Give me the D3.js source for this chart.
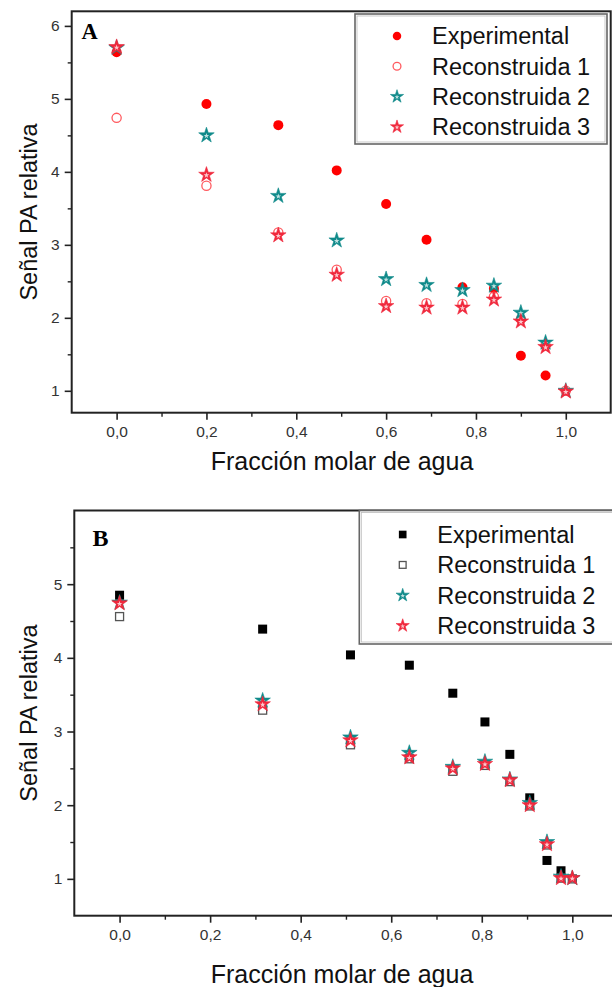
<!DOCTYPE html>
<html><head><meta charset="utf-8">
<script src="https://cdn.jsdelivr.net/npm/d3@7"></script>
<style>body{margin:0;background:#fff}svg{display:block}</style>
</head><body>
<script>
// ---------- DATA ----------
const seriesNames = ["Experimental","Reconstruida 1","Reconstruida 2","Reconstruida 3"];
const xTickValues = [0,0.2,0.4,0.6,0.8,1.0];

// Panel A
const xA    = [0, 0.2, 0.36, 0.49, 0.6, 0.69, 0.77, 0.84, 0.9, 0.955, 1.0];
const expA  = [5.64, 4.93, 4.64, 4.02, 3.56, 3.07, 2.42, 2.40, 1.48, 1.21, null];
const rec1A = [4.74, 3.81, 3.17, 2.66, 2.23, 2.20, 2.19, 2.29, 1.98, 1.62, 1.00];
const rec2A = [5.70, 4.50, 3.67, 3.06, 2.53, 2.45, 2.38, 2.44, 2.07, 1.66, 1.00];
const rec3A = [5.71, 3.96, 3.13, 2.59, 2.16, 2.14, 2.14, 2.25, 1.95, 1.60, 0.99];
const yTicksA = [1,2,3,4,5,6];

// Panel B
const xB    = [0, 0.316, 0.51, 0.64, 0.736, 0.807, 0.862, 0.906, 0.944, 0.975, 1.0];
const expB  = [4.85, 4.39, 4.04, 3.90, 3.52, 3.13, 2.69, 2.10, 1.25, 1.11, null];
const rec1B = [4.56, 3.29, 2.82, 2.63, 2.46, 2.54, 2.32, 1.99, 1.46, 1.01, 1.00];
const rec2B = [4.75, 3.42, 2.92, 2.71, 2.52, 2.59, 2.35, 2.03, 1.50, 1.03, 1.01];
const rec3B = [4.74, 3.37, 2.88, 2.65, 2.50, 2.56, 2.34, 2.00, 1.47, 1.01, 1.01];
const yTicksB = [1,2,3,4,5];

// ---------- DRAW ----------
const W = 612, H = 987;
const svg = d3.select("body").append("svg").attr("width", W).attr("height", H);
const SANS = "'Liberation Sans', Arial, sans-serif";
const SERIF = "'Liberation Serif', 'Times New Roman', serif";
const RED = "#ff0000", PINK = "#ff5a5f", TEAL = "#0f8a8a", CRIMSON = "#f0283c";

function starPath(size){ return d3.symbol().type(d3.symbolStar).size(size)(); }

function drawMarker(g, type, x, y, legend){
  const s = legend ? 0.85 : 1;
  if (type === "dot") {
    g.append("circle").attr("cx",x).attr("cy",y).attr("r",5*s).attr("fill",RED);
  } else if (type === "ring") {
    g.append("circle").attr("cx",x).attr("cy",y).attr("r",4.6*s)
      .attr("fill","none").attr("stroke",PINK).attr("stroke-width",1.3);
  } else if (type === "sq") {
    const a = 9*s;
    g.append("rect").attr("x",x-a/2).attr("y",y-a/2).attr("width",a).attr("height",a).attr("fill","#000");
  } else if (type === "osq") {
    const a = 8*s;
    g.append("rect").attr("x",x-a/2).attr("y",y-a/2).attr("width",a).attr("height",a)
      .attr("fill","none").attr("stroke","#555").attr("stroke-width",1.3);
  } else if (type === "tstar" || type === "rstar") {
    const c = type === "tstar" ? TEAL : CRIMSON;
    g.append("path").attr("d", starPath(75*s*s)).attr("transform",`translate(${x},${y})`)
      .attr("fill",c).attr("stroke",c).attr("stroke-width",0.6);
    g.append("path").attr("d", starPath(10*s*s)).attr("transform",`translate(${x},${y+0.5})`)
      .attr("fill","#fff").attr("opacity",0.75);
  }
}

function panel(cfg){
  const g = svg.append("g");
  const x = d3.scaleLinear().domain([-0.1,1.1]).range([cfg.left, cfg.right]);
  const y = d3.scaleLinear().domain(cfg.yDomain).range([cfg.bottom, cfg.top]);

  // y axis
  const yAx = g.append("g").attr("transform",`translate(${cfg.left},0)`)
    .call(d3.axisLeft(y).tickValues(cfg.yTicks).tickSize(7).tickPadding(5).tickFormat(d3.format("d")));
  yAx.select(".domain").remove();
  yAx.selectAll("line").attr("stroke","#222").attr("stroke-width",1.6);
  yAx.selectAll("text").attr("font-family",SANS).attr("font-size",15.5).attr("fill","#333");
  const yMinor = cfg.yTicks.map(v=>v+0.5).filter(v=>v<cfg.yDomain[1]);
  const yMin = g.append("g").attr("transform",`translate(${cfg.left},0)`)
    .call(d3.axisLeft(y).tickValues(yMinor).tickSize(4).tickFormat(""));
  yMin.select(".domain").remove();
  yMin.selectAll("line").attr("stroke","#222").attr("stroke-width",1.4);

  // x axis
  const xAx = g.append("g").attr("transform",`translate(0,${cfg.bottom})`)
    .call(d3.axisBottom(x).tickValues(xTickValues).tickSize(7).tickPadding(6)
      .tickFormat(d => d3.format(".1f")(d).replace(".",",")));
  xAx.select(".domain").remove();
  xAx.selectAll("line").attr("stroke","#222").attr("stroke-width",1.6);
  xAx.selectAll("text").attr("font-family",SANS).attr("font-size",15.5).attr("fill","#333");
  const xMin = g.append("g").attr("transform",`translate(0,${cfg.bottom})`)
    .call(d3.axisBottom(x).tickValues([0.1,0.3,0.5,0.7,0.9]).tickSize(4).tickFormat(""));
  xMin.select(".domain").remove();
  xMin.selectAll("line").attr("stroke","#222").attr("stroke-width",1.4);

  // frame
  g.append("rect").attr("x",cfg.left).attr("y",cfg.top)
    .attr("width",cfg.right-cfg.left).attr("height",cfg.bottom-cfg.top)
    .attr("fill","none").attr("stroke","#222").attr("stroke-width",2);

  // titles
  g.append("text").attr("x",cfg.xTitleX).attr("y",cfg.xTitleY)
    .attr("text-anchor","middle").attr("font-family",SANS).attr("font-size",25).attr("fill","#111")
    .text("Fracción molar de agua");
  g.append("text").attr("transform",`translate(37,${(cfg.top+cfg.bottom)/2}) rotate(-90)`)
    .attr("text-anchor","middle").attr("font-family",SANS).attr("font-size",23.5).attr("fill","#111")
    .text("Señal PA relativa");

  // panel letter
  g.append("text").attr("x",cfg.letterX).attr("y",cfg.letterY).attr("font-family",SERIF)
    .attr("font-weight","bold").attr("font-size",cfg.letterSize).attr("fill","#000").text(cfg.letter);

  // data
  const mg = g.append("g");
  cfg.series.forEach(s => {
    cfg.xs.forEach((xv,i) => {
      const v = s.values[i];
      if (v == null) return;
      drawMarker(mg, s.type, x(xv), y(v), false);
    });
  });

  // legend
  const L = cfg.legend;
  g.append("rect").attr("x",L.x).attr("y",L.y).attr("width",L.w).attr("height",L.h)
    .attr("fill","#fff").attr("stroke","#666").attr("stroke-width",1.6);
  g.append("rect").attr("x",L.x+2).attr("y",L.y+2).attr("width",L.w-4).attr("height",L.h-4)
    .attr("fill","none").attr("stroke","#bbb").attr("stroke-width",0.8);
  cfg.series.forEach((s,i) => {
    const cy = L.row0 + i*L.dy;
    drawMarker(g, s.type, L.mx, cy, true);
    g.append("text").attr("x",L.tx).attr("y",cy).attr("dy","0.36em")
      .attr("font-family",SANS).attr("font-size",23.5).attr("fill","#111").text(seriesNames[i]);
  });
}

panel({
  left:71.7, right:610.7, top:11.3, bottom:412.7, yDomain:[0.7,6.2], yTicks:yTicksA,
  xTitleX:342, xTitleY:470, letter:"A", letterX:81.5, letterY:38.5, letterSize:22.5,
  xs:xA,
  series:[
    {type:"dot", values:expA},
    {type:"ring", values:rec1A},
    {type:"tstar", values:rec2A},
    {type:"rstar", values:rec3A}
  ],
  legend:{x:355, y:14, w:252, h:130, mx:397, tx:432, row0:36, dy:30.3}
});

panel({
  left:74.3, right:617.6, top:510.5, bottom:915.7, yDomain:[0.5,6], yTicks:yTicksB,
  xTitleX:342, xTitleY:983, letter:"B", letterX:92.5, letterY:545.7, letterSize:24,
  xs:xB,
  series:[
    {type:"sq", values:expB},
    {type:"osq", values:rec1B},
    {type:"tstar", values:rec2B},
    {type:"rstar", values:rec3B}
  ],
  legend:{x:359.3, y:510.5, w:270, h:133.5, mx:402.7, tx:437.3, row0:534.5, dy:30.4}
});
</script>
</body></html>
